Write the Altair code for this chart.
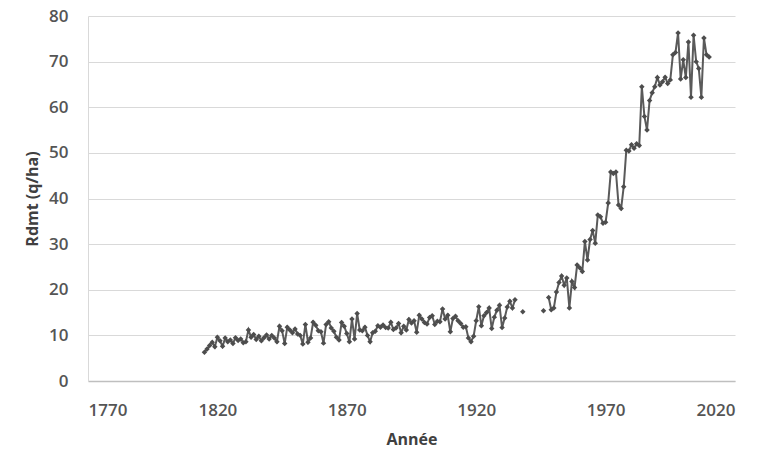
import altair as alt
import pandas as pd

years = list(range(1815, 2011))

yield_1815_1935 = [
    6.3, 7.0, 7.8, 8.5, 7.5, 9.6, 8.8, 7.6, 9.4, 8.6,      # 1815-1824
    9.0, 8.2, 9.5, 8.9, 9.2, 8.4, 8.6, 11.2, 9.6, 10.2,    # 1825-1834
    9.1, 9.8, 8.8, 9.5, 10.1, 9.2, 10.0, 9.4, 8.6, 12.0,   # 1835-1844
    11.0, 8.2, 11.8, 11.2, 10.6, 11.4, 10.3, 10.0, 8.1, 12.4,  # 1845-1854
    8.5, 9.4, 12.9, 12.2, 11.0, 10.8, 8.3, 12.4, 13.0, 11.6,   # 1855-1864
    10.9, 9.6, 9.0, 12.8, 12.0, 10.4, 8.6, 13.6, 9.2, 14.8,    # 1865-1874
    11.2, 11.0, 11.8, 10.0, 8.6, 10.6, 10.9, 12.1, 11.8, 12.3, # 1875-1884
    11.7, 11.6, 12.9, 11.3, 11.6, 12.6, 10.6, 12.0, 11.2, 13.5, # 1885-1894
    12.7, 13.2, 10.7, 14.4, 13.6, 12.8, 12.5, 13.9, 14.3, 12.4, # 1895-1904
    13.1, 13.0, 15.8, 13.6, 14.4, 10.8, 13.7, 14.2, 13.2, 12.6, # 1905-1914
    11.8, 11.9, 9.4, 8.6, 9.8, 13.2, 16.3, 12.1, 14.3, 15.0,   # 1915-1924
    16.0, 11.5, 14.0, 15.5, 16.6, 11.7, 13.8, 16.2, 17.5, 16.0, # 1925-1934
    17.8,                                                    # 1935
]
yield_1936_1945 = [None, None, 15.2, None, None, None, None, None, None, None]
yield_1946_2010 = [
    15.4, None, 18.3, 15.6, 16.0, 19.5, 21.6, 23.0, 21.0, 22.6,  # 1946-1955
    16.0, 21.8, 20.5, 25.4, 24.8, 24.0, 30.6, 26.5, 31.0, 33.0,  # 1956-1965
    30.2, 36.4, 36.0, 34.6, 34.8, 39.0, 45.8, 45.5, 45.8, 38.6,  # 1966-1975
    37.8, 42.6, 50.6, 50.4, 51.8, 51.0, 52.0, 51.6, 64.5, 58.0,  # 1976-1985
    55.0, 61.5, 63.2, 64.5, 66.5, 64.9, 65.6, 66.6, 65.2, 66.0,  # 1986-1995
    71.5, 72.0, 76.3, 66.2, 70.4, 66.5, 74.3, 62.2, 75.8, 70.0,  # 1996-2005
    68.5, 62.2, 75.2, 71.5, 71.0,                                # 2006-2010
]
rdmt = yield_1815_1935 + yield_1936_1945 + yield_1946_2010

x_ticks = [1770, 1820, 1870, 1920, 1970, 2020]
y_ticks = [0, 10, 20, 30, 40, 50, 60, 70, 80]

df = pd.DataFrame({"Année": years, "Rdmt": rdmt})

FONT = "Open Sans"
GRAY = "#555555"

x_enc = alt.X(
    "Année:Q",
    scale=alt.Scale(domain=[1770, 2020], nice=False),
    axis=alt.Axis(
        values=x_ticks, format="d", title="Année", grid=False, ticks=False,
        labelPadding=21, titlePadding=13, domainColor="#bfbfbf", domainWidth=1.5,
    ),
)
y_enc = alt.Y(
    "Rdmt:Q",
    scale=alt.Scale(domain=[0, 80], nice=False),
    axis=alt.Axis(
        values=y_ticks, title="Rdmt (q/ha)", grid=True, ticks=False,
        labelPadding=20, titlePadding=8, domainColor="#d9d9d9",
        gridColor="#d9d9d9",
    ),
)

line = alt.Chart(df).mark_line(
    color="#5a5a5a", strokeWidth=2, invalid="break-paths-show-domains"
).encode(x=x_enc, y=y_enc)

pts = alt.Chart(df).mark_point(
    shape="diamond", filled=True, size=30, color="#4d4d4d", opacity=1
).encode(x="Année:Q", y="Rdmt:Q")

chart = (
    alt.layer(line, pts)
    .properties(
        width=647, height=365,
        autosize=alt.AutoSizeParams(type="none"),
        padding={"left": 88, "top": 16, "right": 28, "bottom": 70},
        background="white",
    )
    .configure_view(stroke=None)
    .configure_axis(
        labelFont=FONT, titleFont=FONT, labelFontSize=17, titleFontSize=16,
        labelColor=GRAY, titleColor="#404040", titleFontWeight="bold",
        labelFontWeight=600,
    )
)

chart.save("out.html", embed_options={"renderer": "svg", "actions": False})
